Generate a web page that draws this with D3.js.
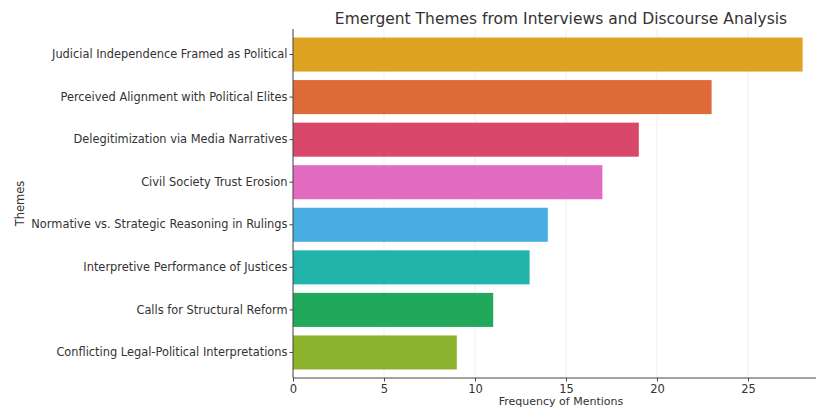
<!DOCTYPE html>
<html>
<head>
<meta charset="utf-8">
<script src="https://cdn.jsdelivr.net/npm/d3@7"></script>
<style>
  body { margin: 0; background: #fff; }
  text { font-family: "DejaVu Sans", sans-serif; fill: #333; }
</style>
</head>
<body>
<script>
const themes = [
  "Judicial Independence Framed as Political",
  "Perceived Alignment with Political Elites",
  "Delegitimization via Media Narratives",
  "Civil Society Trust Erosion",
  "Normative vs. Strategic Reasoning in Rulings",
  "Interpretive Performance of Justices",
  "Calls for Structural Reform",
  "Conflicting Legal-Political Interpretations"
];
const mentions = [28, 23, 19, 17, 14, 13, 11, 9];
const barColors = ["#e0a221", "#dd6b37", "#d9476a", "#e26cc0", "#48aee2", "#22b4ab", "#20a85b", "#8db22e"];
const xTicks = [0, 5, 10, 15, 20, 25];

const width = 816, height = 409;
const margin = { top: 29, left: 293, bottom: 31 };
const plotH = height - margin.top - margin.bottom;

const svg = d3.select('body')
  .append('svg')
  .attr('width', width)
  .attr('height', height);

const xScale = d3.scaleLinear()
  .domain([0, 29.4])
  .range([margin.left, margin.left + 29.4 * 18.2]);

const yScale = d3.scaleBand()
  .domain(themes)
  .range([margin.top, margin.top + plotH])
  .padding(0.2);

// grid
svg.append('g')
  .selectAll('line')
  .data(xTicks)
  .enter()
  .append('line')
  .attr('x1', (d) => xScale(d))
  .attr('x2', (d) => xScale(d))
  .attr('y1', margin.top)
  .attr('y2', margin.top + plotH)
  .style('stroke', '#ebebeb')
  .style('stroke-width', 0.8);

svg.append('g')
  .selectAll('rect')
  .data(mentions)
  .enter()
  .append('rect')
  .attr('x', xScale(0))
  .attr('y', (d, i) => yScale(themes[i]))
  .attr('width', (d) => xScale(d) - xScale(0))
  .attr('height', yScale.bandwidth())
  .style('fill', (d, i) => barColors[i]);

const xAxis = d3.axisBottom(xScale)
  .tickValues(xTicks)
  .tickSize(3.5)
  .tickPadding(3);

svg.append('g')
  .attr('transform', 'translate(0,' + (margin.top + plotH) + ')')
  .call(xAxis)
  .call((g) => g.select('.domain').attr('d', 'M' + xScale(0) + ',0H' + width).style('stroke', '#444'))
  .call((g) => g.selectAll('.tick line').style('stroke', '#444'))
  .call((g) => g.selectAll('.tick text').style('font-size', '11.5px').style('fill', '#333'));

const yAxis = d3.axisLeft(yScale)
  .tickSize(3.5)
  .tickPadding(2);

svg.append('g')
  .attr('transform', 'translate(' + margin.left + ',0)')
  .call(yAxis)
  .call((g) => g.select('.domain').attr('d', 'M0,' + margin.top + 'V' + (margin.top + plotH)).style('stroke', '#444'))
  .call((g) => g.selectAll('.tick line').style('stroke', '#444'))
  .call((g) => g.selectAll('.tick text').style('font-size', '11.4px').style('fill', '#333'));

svg.append('text')
  .attr('x', 561)
  .attr('y', 24)
  .style('font-size', '15.5px')
  .style('text-anchor', 'middle')
  .text('Emergent Themes from Interviews and Discourse Analysis');

svg.append('text')
  .attr('x', 561)
  .attr('y', 405)
  .style('font-size', '11px')
  .style('text-anchor', 'middle')
  .text('Frequency of Mentions');

svg.append('text')
  .attr('transform', 'translate(24,' + (margin.top + plotH / 2) + ') rotate(-90)')
  .style('font-size', '11.5px')
  .style('text-anchor', 'middle')
  .text('Themes');
</script>
</body>
</html>
